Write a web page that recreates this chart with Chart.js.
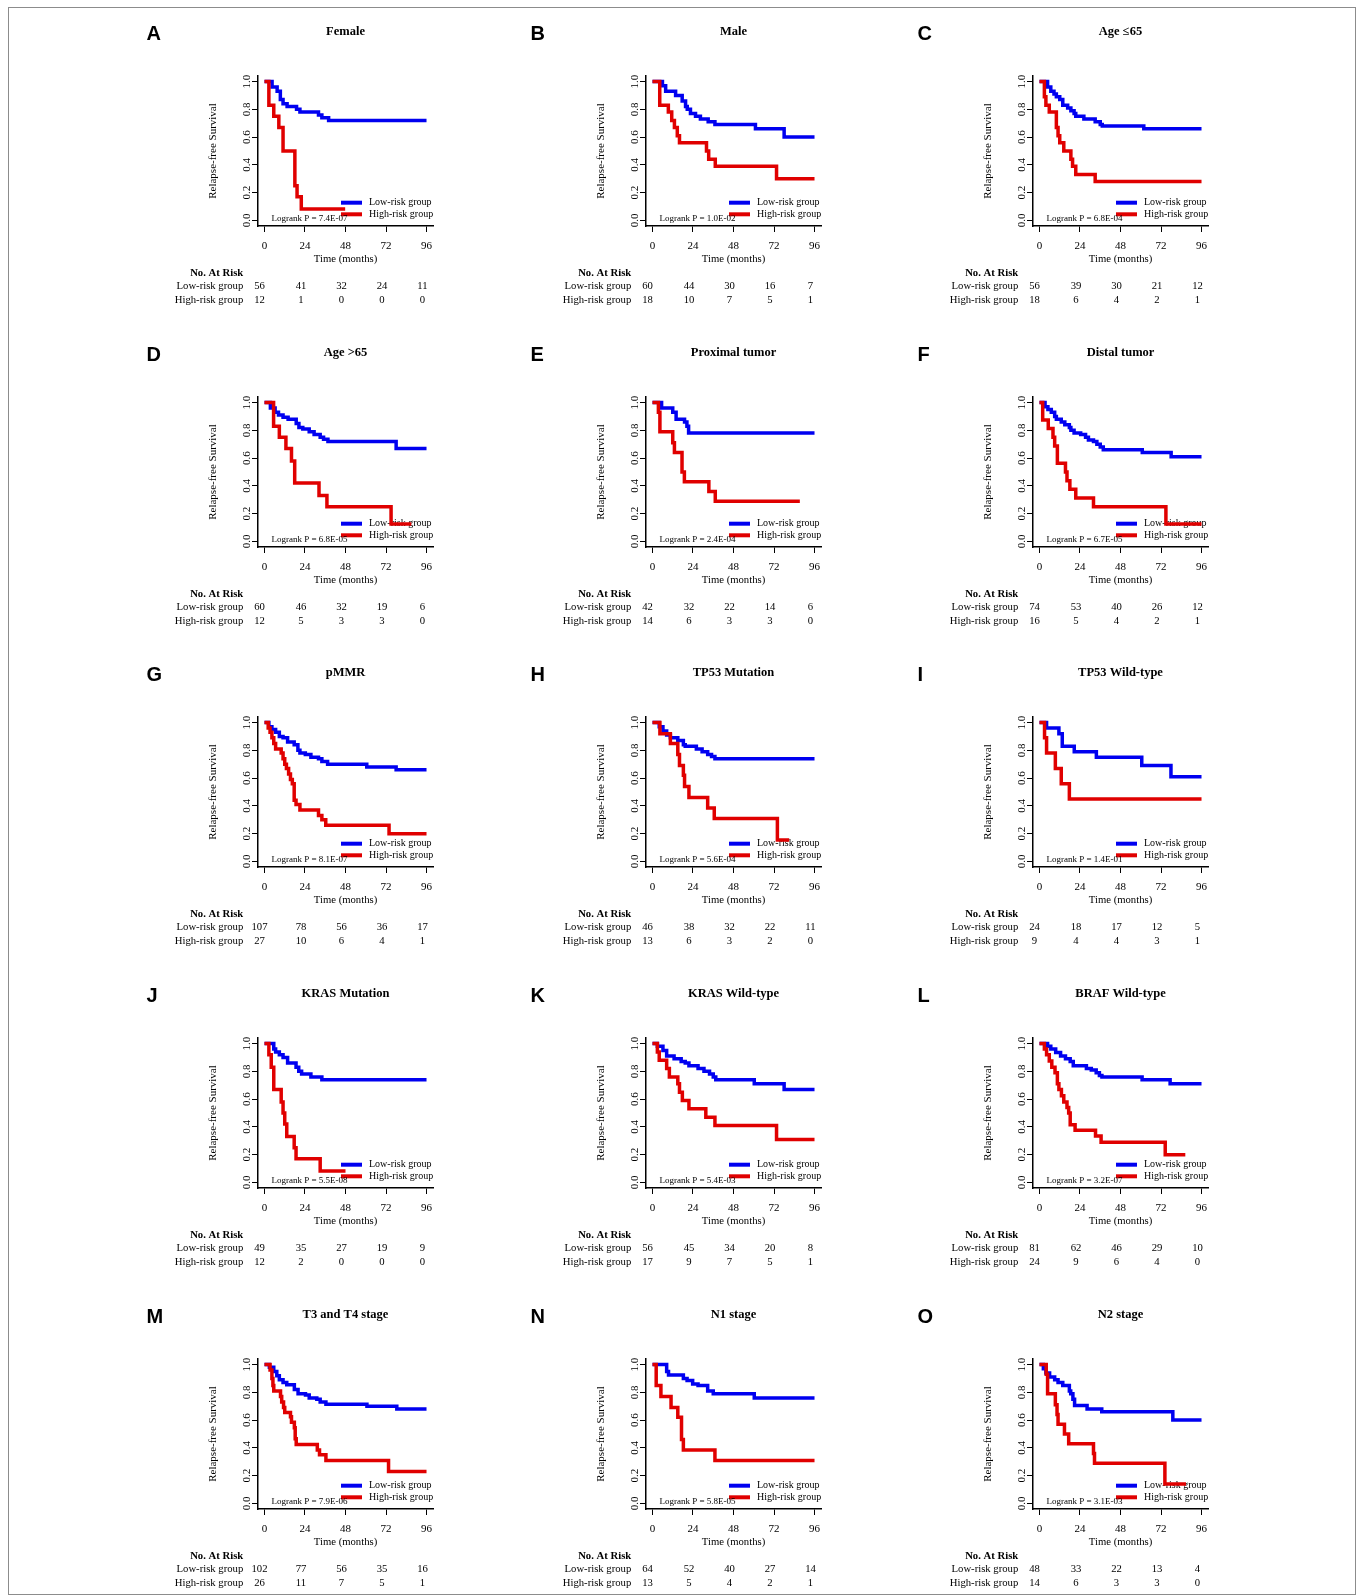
<!DOCTYPE html>
<html>
<head>
<meta charset="utf-8">
<script src="https://cdn.jsdelivr.net/npm/chart.js@4.4.1/dist/chart.umd.min.js"></script>
<style>
    html, body { margin: 0; padding: 0; background: #fff; }
    #page { position: relative; width: 1357px; height: 1595px; overflow: hidden; }
    #frame { position: absolute; left: 8px; top: 7px; width: 1346px; height: 1586px; border: 1px solid #8c8c8c; }
    #page canvas { position: absolute; }
</style>
</head>
<body>
<div id="page"><div id="frame"></div></div>
<script>
// panel labels, titles and test results
const letters = ['A', 'B', 'C', 'D', 'E', 'F', 'G', 'H', 'I', 'J', 'K', 'L', 'M', 'N', 'O'];
const titles = ['Female', 'Male', 'Age \u226465', 'Age >65', 'Proximal tumor', 'Distal tumor',
    'pMMR', 'TP53 Mutation', 'TP53 Wild-type', 'KRAS Mutation', 'KRAS Wild-type', 'BRAF Wild-type',
    'T3 and T4 stage', 'N1 stage', 'N2 stage'];
const pValues = ['7.4E-07', '1.0E-02', '6.8E-04', '6.8E-05', '2.4E-04', '6.7E-05', '8.1E-07', '5.6E-04',
    '1.4E-01', '5.5E-08', '5.4E-03', '3.2E-07', '7.9E-06', '5.8E-05', '3.1E-03'];

const xTicks = [0, 24, 48, 72, 96];
const yTicks = [0, 0.2, 0.4, 0.6, 0.8, 1.0];

// numbers at risk at 0, 24, 48, 72, 96 months
const riskLow = [[56, 41, 32, 24, 11], [60, 44, 30, 16, 7], [56, 39, 30, 21, 12], [60, 46, 32, 19, 6],
    [42, 32, 22, 14, 6], [74, 53, 40, 26, 12], [107, 78, 56, 36, 17], [46, 38, 32, 22, 11],
    [24, 18, 17, 12, 5], [49, 35, 27, 19, 9], [56, 45, 34, 20, 8], [81, 62, 46, 29, 10],
    [102, 77, 56, 35, 16], [64, 52, 40, 27, 14], [48, 33, 22, 13, 4]];
const riskHigh = [[12, 1, 0, 0, 0], [18, 10, 7, 5, 1], [18, 6, 4, 2, 1], [12, 5, 3, 3, 0],
    [14, 6, 3, 3, 0], [16, 5, 4, 2, 1], [27, 10, 6, 4, 1], [13, 6, 3, 2, 0],
    [9, 4, 4, 3, 1], [12, 2, 0, 0, 0], [17, 9, 7, 5, 1], [24, 9, 6, 4, 0],
    [26, 11, 7, 5, 1], [13, 5, 4, 2, 1], [14, 6, 3, 3, 0]];

// Kaplan-Meier curves: [months, survival]
const femaleLow = [[0, 1], [4.5, 0.96], [7.5, 0.93], [9.4, 0.87], [11, 0.84], [13.4, 0.82], [19, 0.80], [21, 0.78], [32, 0.76], [34, 0.74], [38, 0.72], [96, 0.72]];
const femaleHigh = [[0, 1], [2.6, 0.83], [5.5, 0.75], [8.5, 0.67], [11, 0.5], [18, 0.25], [19.3, 0.17], [21.8, 0.083], [47.8, 0.083]];
const maleLow = [[0, 1], [5.9, 0.97], [7.8, 0.93], [13.7, 0.90], [17.6, 0.86], [19.6, 0.82], [20.6, 0.80], [22.5, 0.77], [25.5, 0.75], [28.4, 0.73], [33, 0.71], [37, 0.69], [61, 0.66], [78, 0.60], [96, 0.60]];
const maleHigh = [[0, 1], [4.3, 0.83], [9.4, 0.78], [11.4, 0.72], [13, 0.67], [14.7, 0.61], [16, 0.56], [32, 0.50], [33.3, 0.44], [37.2, 0.39], [73.5, 0.30], [96, 0.30]];
const ageLe65Low = [[0, 1], [4.8, 0.96], [6.7, 0.93], [8.6, 0.91], [10, 0.89], [12, 0.87], [13.8, 0.83], [16.7, 0.81], [18.6, 0.79], [20.5, 0.77], [21.5, 0.75], [26.3, 0.73], [33, 0.71], [36, 0.69], [37.2, 0.68], [61.8, 0.66], [96, 0.66]];
const ageLe65High = [[0, 1], [2.9, 0.89], [3.8, 0.83], [5.8, 0.78], [10, 0.67], [11, 0.61], [12, 0.56], [14.4, 0.50], [18.6, 0.44], [19.6, 0.39], [21.5, 0.33], [33, 0.28], [96, 0.28]];
const ageGt65Low = [[0, 1], [3.5, 0.96], [6.3, 0.93], [8.3, 0.91], [11, 0.895], [14, 0.88], [18.8, 0.85], [20.4, 0.82], [22.7, 0.81], [26.5, 0.79], [29.4, 0.77], [33, 0.75], [35, 0.735], [37.6, 0.72], [78, 0.67], [96, 0.67]];
const ageGt65High = [[0, 1], [5.4, 0.83], [8.8, 0.75], [12.7, 0.67], [16, 0.58], [17.9, 0.42], [32.3, 0.33], [37, 0.25], [75, 0.125], [87, 0.125]];
const proximalLow = [[0, 1], [5.4, 0.96], [12, 0.93], [14, 0.88], [19, 0.86], [20.4, 0.83], [21.4, 0.78], [96, 0.78]];
const proximalHigh = [[0, 1], [3.5, 0.93], [4.4, 0.79], [12, 0.71], [13, 0.64], [17.5, 0.50], [18.9, 0.43], [33.4, 0.36], [37.2, 0.29], [87.3, 0.29]];
const distalLow = [[0, 1], [3.3, 0.97], [5, 0.95], [7, 0.93], [9, 0.90], [10, 0.88], [12.9, 0.86], [15, 0.84], [17.7, 0.82], [18.6, 0.80], [20.5, 0.78], [24.4, 0.77], [27.3, 0.75], [29, 0.73], [32, 0.72], [34, 0.70], [36, 0.68], [37.8, 0.66], [60.9, 0.64], [78, 0.61], [96, 0.61]];
const distalHigh = [[0, 1], [1.9, 0.875], [5.2, 0.8125], [8, 0.75], [9, 0.6875], [10.6, 0.5625], [15.4, 0.5], [16.3, 0.4375], [18, 0.375], [21.5, 0.3125], [32, 0.25], [74.9, 0.125], [96, 0.125]];
const pmmrLow = [[0, 1], [2.6, 0.97], [4.4, 0.95], [6.6, 0.93], [8.8, 0.90], [11, 0.89], [13.7, 0.86], [17.6, 0.84], [19.8, 0.80], [21, 0.78], [24.2, 0.77], [27.5, 0.75], [32, 0.74], [34, 0.72], [37.4, 0.70], [60.6, 0.68], [78, 0.66], [96, 0.66]];
const pmmrHigh = [[0, 1], [2.2, 0.96], [3.3, 0.93], [4.4, 0.89], [5.5, 0.85], [6.6, 0.81], [9.9, 0.78], [11, 0.74], [12, 0.70], [13, 0.67], [14.3, 0.63], [15.4, 0.59], [16.5, 0.56], [17.6, 0.44], [18.7, 0.41], [21, 0.37], [32, 0.33], [34, 0.30], [36.3, 0.26], [73.8, 0.20], [96, 0.20]];
const tp53MutLow = [[0, 1], [4, 0.97], [6.2, 0.94], [8.4, 0.91], [10.6, 0.89], [15, 0.87], [18.3, 0.84], [19.4, 0.83], [26, 0.81], [29.4, 0.79], [32.7, 0.77], [35, 0.755], [37, 0.74], [96, 0.74]];
const tp53MutHigh = [[0, 1], [4.4, 0.92], [10.6, 0.85], [15, 0.77], [16, 0.69], [18.3, 0.62], [19, 0.54], [21.6, 0.46], [32.7, 0.385], [36.6, 0.31], [74, 0.155], [81, 0.155]];
const tp53WtLow = [[0, 1], [4.2, 0.96], [11.5, 0.92], [13.5, 0.83], [20.6, 0.79], [33.7, 0.75], [60.6, 0.69], [77.9, 0.61], [96, 0.61]];
const tp53WtHigh = [[0, 1], [3, 0.89], [4.2, 0.78], [9.4, 0.67], [12.9, 0.56], [17.7, 0.45], [96, 0.45]];
const krasMutLow = [[0, 1], [5.5, 0.96], [6.6, 0.94], [8.8, 0.92], [11, 0.90], [13.7, 0.86], [18.7, 0.83], [20.3, 0.80], [22, 0.78], [27.5, 0.76], [34, 0.74], [96, 0.74]];
const krasMutHigh = [[0, 1], [2.6, 0.92], [4, 0.83], [5.5, 0.67], [9.9, 0.58], [11, 0.50], [12, 0.42], [13.2, 0.33], [17.6, 0.25], [18.7, 0.17], [33, 0.083], [48, 0.083]];
const krasWtLow = [[0, 1], [2.9, 0.98], [6.2, 0.95], [8.4, 0.91], [12.8, 0.89], [17, 0.87], [19.4, 0.86], [21.6, 0.84], [27, 0.82], [30.5, 0.80], [33.8, 0.78], [36, 0.76], [37.5, 0.74], [60.3, 0.71], [78, 0.67], [96, 0.67]];
const krasWtHigh = [[0, 1], [2.9, 0.94], [4, 0.88], [8.4, 0.82], [10, 0.76], [15, 0.71], [16, 0.65], [17.7, 0.59], [21.6, 0.53], [31.6, 0.47], [37, 0.41], [73.5, 0.31], [96, 0.31]];
const brafWtLow = [[0, 1], [4.8, 0.98], [6.7, 0.96], [9.6, 0.935], [12.5, 0.91], [15.4, 0.89], [18.2, 0.87], [20, 0.84], [27.8, 0.82], [30.7, 0.81], [33.6, 0.79], [35.5, 0.77], [37, 0.76], [60.8, 0.74], [77.4, 0.71], [96, 0.71]];
const brafWtHigh = [[0, 1], [2.9, 0.96], [4.2, 0.92], [5.8, 0.875], [7.3, 0.83], [9.2, 0.79], [10.6, 0.71], [11.5, 0.67], [13, 0.625], [14.4, 0.58], [16.3, 0.54], [17.3, 0.50], [18.2, 0.415], [21.1, 0.375], [33.2, 0.335], [36.5, 0.29], [74.5, 0.20], [86.4, 0.20]];
const t34Low = [[0, 1], [2.9, 0.98], [5.5, 0.95], [7.3, 0.92], [8.8, 0.89], [11, 0.87], [13.2, 0.855], [17.7, 0.82], [19.9, 0.79], [24.3, 0.78], [26.5, 0.76], [31, 0.75], [33, 0.73], [36.4, 0.715], [60.7, 0.70], [78.4, 0.68], [96, 0.68]];
const t34High = [[0, 1], [3.3, 0.96], [4.4, 0.90], [5, 0.85], [5.5, 0.81], [9.5, 0.77], [10.2, 0.73], [11.3, 0.69], [12, 0.655], [15.4, 0.625], [16, 0.585], [17.7, 0.545], [18.2, 0.465], [18.8, 0.425], [31.3, 0.385], [32.6, 0.35], [36.4, 0.31], [73.5, 0.23], [96, 0.23]];
const n1Low = [[0, 1], [8.4, 0.95], [9.5, 0.925], [18.3, 0.90], [20.5, 0.885], [23.8, 0.86], [27, 0.85], [32.7, 0.81], [36, 0.79], [60.3, 0.76], [96, 0.76]];
const n1High = [[0, 1], [2.2, 0.85], [5, 0.77], [11, 0.69], [15, 0.62], [17.2, 0.46], [18.3, 0.385], [37, 0.31], [96, 0.31]];
const n2Low = [[0, 1], [2.3, 0.97], [3.8, 0.94], [6, 0.91], [9, 0.89], [11, 0.87], [13.8, 0.85], [17.7, 0.81], [18.5, 0.79], [19.8, 0.75], [20.8, 0.705], [28.2, 0.68], [36.9, 0.66], [79, 0.60], [96, 0.60]];
const n2High = [[0, 1], [4, 0.93], [4.8, 0.79], [9.4, 0.71], [10.4, 0.64], [11, 0.57], [14.8, 0.50], [17.3, 0.43], [32, 0.36], [32.6, 0.29], [74.3, 0.14], [86.8, 0.14]];

const lowCurves = [femaleLow, maleLow, ageLe65Low, ageGt65Low, proximalLow, distalLow, pmmrLow, tp53MutLow,
    tp53WtLow, krasMutLow, krasWtLow, brafWtLow, t34Low, n1Low, n2Low];
const highCurves = [femaleHigh, maleHigh, ageLe65High, ageGt65High, proximalHigh, distalHigh, pmmrHigh, tp53MutHigh,
    tp53WtHigh, krasMutHigh, krasWtHigh, brafWtHigh, t34High, n1High, n2High];

const BLUE = '#0000f0';
const RED = '#e00000';
const SERIF = '"Liberation Serif", "Times New Roman", serif';
const letterX = [6.5, 2.5, 2.5];

// draws the text parts of one KM panel around the chart area
const kmText = {
    id: 'kmText',
    beforeDatasetsDraw(chart, args, opts) {
        const ctx = chart.ctx;
        const a = chart.chartArea;
        ctx.save();
        ctx.lineCap = 'butt';
        ctx.lineWidth = 4;
        ctx.font = '10px ' + SERIF;
        ctx.textBaseline = 'middle';
        ctx.textAlign = 'left';
        [[BLUE, 'Low-risk group', a.bottom - 23.3], [RED, 'High-risk group', a.bottom - 11.7]].forEach(function (item) {
            ctx.strokeStyle = item[0];
            ctx.beginPath();
            ctx.moveTo(a.right - 92, item[2]);
            ctx.lineTo(a.right - 71, item[2]);
            ctx.stroke();
            ctx.fillStyle = '#000';
            ctx.fillText(item[1], a.right - 64, item[2]);
        });
        ctx.font = '9px ' + SERIF;
        ctx.fillText('Logrank P = ' + pValues[opts.index], a.left + 13.5, a.bottom - 7.5);
        ctx.restore();
    },
    afterDraw(chart, args, opts) {
        const ctx = chart.ctx;
        const a = chart.chartArea;
        const xs = chart.scales.x;
        const ys = chart.scales.y;
        const i = opts.index;
        ctx.save();
        ctx.fillStyle = '#000';

        ctx.font = 'bold 20px "Liberation Sans", Arial, sans-serif';
        ctx.textAlign = 'left';
        ctx.textBaseline = 'alphabetic';
        ctx.fillText(letters[i], letterX[i % 3], 25);

        ctx.font = 'bold 12.5px ' + SERIF;
        ctx.textAlign = 'center';
        ctx.textBaseline = 'middle';
        ctx.fillText(titles[i], (a.left + a.right) / 2, 16.5);

        ctx.font = '11px ' + SERIF;
        yTicks.forEach(function (v) {
            ctx.save();
            ctx.translate(a.left - 11.3, ys.getPixelForValue(v));
            ctx.rotate(-Math.PI / 2);
            ctx.fillText(v.toFixed(1), 0, 0);
            ctx.restore();
        });
        ctx.save();
        ctx.translate(a.left - 44.7, (a.top + a.bottom) / 2);
        ctx.rotate(-Math.PI / 2);
        ctx.fillText('Relapse-free Survival', 0, 0);
        ctx.restore();

        ctx.font = '10.7px ' + SERIF;
        ctx.fillText('Time (months)', xs.getPixelForValue(48), 244.5);

        ctx.textAlign = 'right';
        ctx.font = 'bold 10.7px ' + SERIF;
        ctx.fillText('No. At Risk', a.left - 14.7, 258.2);
        ctx.font = '10.7px ' + SERIF;
        ctx.fillText('Low-risk group', a.left - 14.7, 270.8);
        ctx.fillText('High-risk group', a.left - 14.7, 284.8);
        ctx.textAlign = 'center';
        xTicks.forEach(function (t, k) {
            const px = xs.getPixelForValue(t) - (k === 0 ? 5 : 4);
            ctx.fillText(String(riskLow[i][k]), px, 270.8);
            ctx.fillText(String(riskHigh[i][k]), px, 284.8);
        });
        ctx.restore();
    }
};

const page = document.getElementById('page');

titles.forEach(function (title, i) {
    const col = i % 3;
    const row = Math.floor(i / 3);
    const canvas = document.createElement('canvas');
    canvas.width = 388;
    canvas.height = 321;
    canvas.style.left = Math.round(140 + col * 387.7) + 'px';
    canvas.style.top = Math.round(15 + row * 320.7) + 'px';
    page.appendChild(canvas);

    const axisGrid = { drawOnChartArea: false, drawTicks: true, tickLength: 6, color: '#000', lineWidth: 1 };
    const axisBorder = { display: true, color: '#000', width: 1.5 };

    new Chart(canvas, {
        type: 'line',
        data: {
            datasets: [{
                label: 'High-risk group',
                data: highCurves[i].map(p => ({ x: p[0], y: p[1] })),
                borderColor: RED,
                borderWidth: 3.5,
                stepped: true,
                pointRadius: 0,
                fill: false
            }, {
                label: 'Low-risk group',
                data: lowCurves[i].map(p => ({ x: p[0], y: p[1] })),
                borderColor: BLUE,
                borderWidth: 3.5,
                stepped: true,
                pointRadius: 0,
                fill: false
            }]
        },
        options: {
            responsive: false,
            animation: false,
            events: [],
            layout: { padding: { left: 108, right: 95, top: 61, bottom: 80 } },
            plugins: {
                legend: { display: false },
                tooltip: { enabled: false },
                kmText: { index: i }
            },
            scales: {
                x: {
                    type: 'linear',
                    min: -3.84,
                    max: 99.84,
                    afterBuildTicks: s => { s.ticks = xTicks.map(v => ({ value: v })); },
                    afterFit: s => { s.height = 30; },
                    grid: axisGrid,
                    border: axisBorder,
                    ticks: { color: '#000', padding: 8, maxRotation: 0, font: { family: SERIF, size: 11 } }
                },
                y: {
                    type: 'linear',
                    min: -0.04,
                    max: 1.04,
                    afterBuildTicks: s => { s.ticks = yTicks.map(v => ({ value: v })); },
                    afterFit: s => { s.width = 10; },
                    grid: axisGrid,
                    border: axisBorder,
                    ticks: { display: false }
                }
            }
        },
        plugins: [kmText]
    });
});
</script>
</body>
</html>
